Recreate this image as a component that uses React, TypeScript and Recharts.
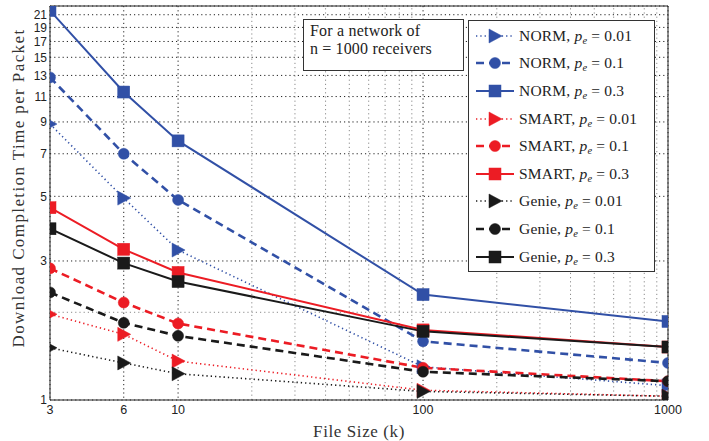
import React from 'react';
import {
  LineChart,
  Line,
  XAxis,
  YAxis,
  CartesianGrid,
  ReferenceLine,
  Legend,
} from 'recharts';

const fileSizes = [3, 6, 10, 100, 1000];

const normP001 = [8.85, 4.93, 3.27, 1.3, 1.12];
const normP01 = [12.8, 7.0, 4.86, 1.59, 1.34];
const normP03 = [21.7, 11.4, 7.75, 2.3, 1.86];
const smartP001 = [1.97, 1.68, 1.36, 1.08, 1.03];
const smartP01 = [2.83, 2.16, 1.83, 1.29, 1.16];
const smartP03 = [4.57, 3.29, 2.74, 1.74, 1.52];
const genieP001 = [1.51, 1.34, 1.23, 1.07, 1.03];
const genieP01 = [2.34, 1.84, 1.66, 1.25, 1.16];
const genieP03 = [3.87, 2.95, 2.55, 1.72, 1.52];

const xTicks = [3, 6, 10, 100, 1000];
const xMinorGrid = [20, 30, 40, 50, 60, 70, 80, 90, 200, 300, 400, 500, 600, 700, 800, 900];
const yTicks = [1, 3, 5, 7, 9, 11, 13, 15, 17, 19, 21];
const yMinorGrid = [2];

const BLUE = '#3150a6';
const RED = '#ec1c24';
const BLACK = '#1a1a1a';

type Style = 'dotted' | 'dashed' | 'solid';
type Marker = 'tri' | 'circle' | 'square';

const series: { key: string; scheme: string; pe: string; values: number[]; color: string; style: Style; marker: Marker }[] = [
  { key: 'normP001', scheme: 'NORM', pe: '0.01', values: normP001, color: BLUE, style: 'dotted', marker: 'tri' },
  { key: 'normP01', scheme: 'NORM', pe: '0.1', values: normP01, color: BLUE, style: 'dashed', marker: 'circle' },
  { key: 'normP03', scheme: 'NORM', pe: '0.3', values: normP03, color: BLUE, style: 'solid', marker: 'square' },
  { key: 'smartP001', scheme: 'SMART', pe: '0.01', values: smartP001, color: RED, style: 'dotted', marker: 'tri' },
  { key: 'smartP01', scheme: 'SMART', pe: '0.1', values: smartP01, color: RED, style: 'dashed', marker: 'circle' },
  { key: 'smartP03', scheme: 'SMART', pe: '0.3', values: smartP03, color: RED, style: 'solid', marker: 'square' },
  { key: 'genieP001', scheme: 'Genie', pe: '0.01', values: genieP001, color: BLACK, style: 'dotted', marker: 'tri' },
  { key: 'genieP01', scheme: 'Genie', pe: '0.1', values: genieP01, color: BLACK, style: 'dashed', marker: 'circle' },
  { key: 'genieP03', scheme: 'Genie', pe: '0.3', values: genieP03, color: BLACK, style: 'solid', marker: 'square' },
];

const data = fileSizes.map((x, i) => {
  const row: Record<string, number> = { x };
  series.forEach((s) => {
    row[s.key] = s.values[i];
  });
  return row;
});

const dashFor = (s: Style) => (s === 'dotted' ? '1.3 3' : s === 'dashed' ? '8 5' : undefined);
const widthFor = (s: Style) => (s === 'dotted' ? 1.6 : s === 'dashed' ? 2.6 : 2);

function markerShape(marker: Marker, color: string, cx: number, cy: number, key?: string) {
  if (marker === 'tri') {
    return (
      <polygon key={key} points={`${cx - 6},${cy - 7} ${cx - 6},${cy + 7} ${cx + 7},${cy}`} fill={color} stroke={color} strokeWidth={0.5} />
    );
  }
  if (marker === 'circle') {
    return <circle key={key} cx={cx} cy={cy} r={5.5} fill={color} stroke={color} strokeWidth={0.5} />;
  }
  return <rect key={key} x={cx - 6} y={cy - 6} width={12} height={12} fill={color} stroke={color} strokeWidth={0.5} />;
}

const makeDot = (marker: Marker, color: string, id: string) => (props: any) => {
  const { cx, cy, index } = props;
  if (cx == null || cy == null) return <g key={`${id}-${index}`} />;
  return markerShape(marker, color, cx, cy, `${id}-${index}`);
};

const serif = '"Liberation Serif", "DejaVu Serif", serif';
const sans = '"Liberation Sans", Arial, sans-serif';

const Eq = () => <span style={{ margin: '0 4px' }}>=</span>;

const renderLegend = () => (
  <div
    style={{
      border: '1px solid #333',
      background: '#fff',
      width: 187,
      height: 252,
      boxSizing: 'border-box',
      paddingTop: 1,
      fontFamily: serif,
      fontSize: 15.5,
      letterSpacing: 0.2,
      color: '#222',
    }}
  >
    {series.map((s) => (
      <div key={s.key} style={{ height: 27.6, display: 'flex', alignItems: 'center' }}>
        <svg width={40} height={20} style={{ marginLeft: 6, flex: 'none' }}>
          <line x1={1} y1={10} x2={39} y2={10} stroke={s.color} strokeWidth={widthFor(s.style)} strokeDasharray={dashFor(s.style)} />
          {markerShape(s.marker, s.color, 20, 10)}
        </svg>
        <span style={{ marginLeft: 4, whiteSpace: 'nowrap' }}>
          {s.scheme}, <i>p</i>
          <span style={{ fontSize: 10.5, fontStyle: 'italic', position: 'relative', top: 3 }}>e</span>
          <Eq />
          {s.pe}
        </span>
      </div>
    ))}
  </div>
);

export default function App() {
  return (
    <div style={{ position: 'fixed', left: 0, top: 0, width: 709, height: 441, background: '#fff' }}>
      <LineChart width={709} height={441} data={data} margin={{ top: 6, right: 41, left: 0, bottom: 0 }}>
        <CartesianGrid stroke="#222" strokeDasharray="1.2 3" />
        {xMinorGrid.map((v) => (
          <ReferenceLine key={`vx${v}`} x={v} stroke="#8a8a8a" strokeDasharray="1.2 3" />
        ))}
        {yMinorGrid.map((v) => (
          <ReferenceLine key={`hy${v}`} y={v} stroke="#8a8a8a" strokeDasharray="1.2 3" />
        ))}
        <ReferenceLine x={1000} stroke="#222" strokeWidth={1} />
        <ReferenceLine y={22.5} stroke="#222" strokeWidth={1} />
        <XAxis
          dataKey="x"
          type="number"
          scale="log"
          domain={[3, 1000]}
          ticks={xTicks}
          interval={0}
          allowDataOverflow
          height={41}
          tickSize={0}
          tickMargin={5}
          axisLine={{ stroke: '#222' }}
          tick={{ fill: '#222', fontSize: 12.5, fontFamily: sans }}
          label={{ value: 'File Size (k)', position: 'insideBottom', offset: 4, fill: '#333', fontSize: 17, letterSpacing: 0.6, fontFamily: serif }}
        />
        <YAxis
          type="number"
          scale="log"
          domain={[1, 22.5]}
          ticks={yTicks}
          interval={0}
          allowDataOverflow
          width={50}
          tickSize={0}
          tickMargin={3}
          axisLine={{ stroke: '#222' }}
          tick={{ fill: '#222', fontSize: 12, fontFamily: sans }}
          label={{ value: 'Download Completion Time per Packet', angle: -90, position: 'center', dx: -7, dy: -15, fill: '#333', fontSize: 17, letterSpacing: 1.4, fontFamily: serif }}
        />
        {series.map((s) => (
          <Line
            key={s.key}
            dataKey={s.key}
            name={`${s.scheme}, pe = ${s.pe}`}
            type="linear"
            stroke={s.color}
            strokeWidth={widthFor(s.style)}
            strokeDasharray={dashFor(s.style)}
            dot={makeDot(s.marker, s.color, s.key)}
            activeDot={false}
            isAnimationActive={false}
          />
        ))}
        <Legend
          layout="vertical"
          align="center"
          verticalAlign="middle"
          content={renderLegend}
          wrapperStyle={{ position: 'absolute', left: 468, top: 20, width: 187, height: 252 }}
        />
      </LineChart>
      <div
        style={{
          position: 'absolute',
          left: 303,
          top: 19,
          width: 161,
          height: 52,
          boxSizing: 'border-box',
          border: '1px solid #333',
          background: '#fff',
          paddingTop: 2,
          paddingLeft: 6,
          fontFamily: serif,
          fontSize: 16,
          letterSpacing: 0.2,
          lineHeight: '18px',
          color: '#222',
          whiteSpace: 'nowrap',
        }}
      >
        <div>For a network of</div>
        <div>
          n<Eq />1000 receivers
        </div>
      </div>
    </div>
  );
}
